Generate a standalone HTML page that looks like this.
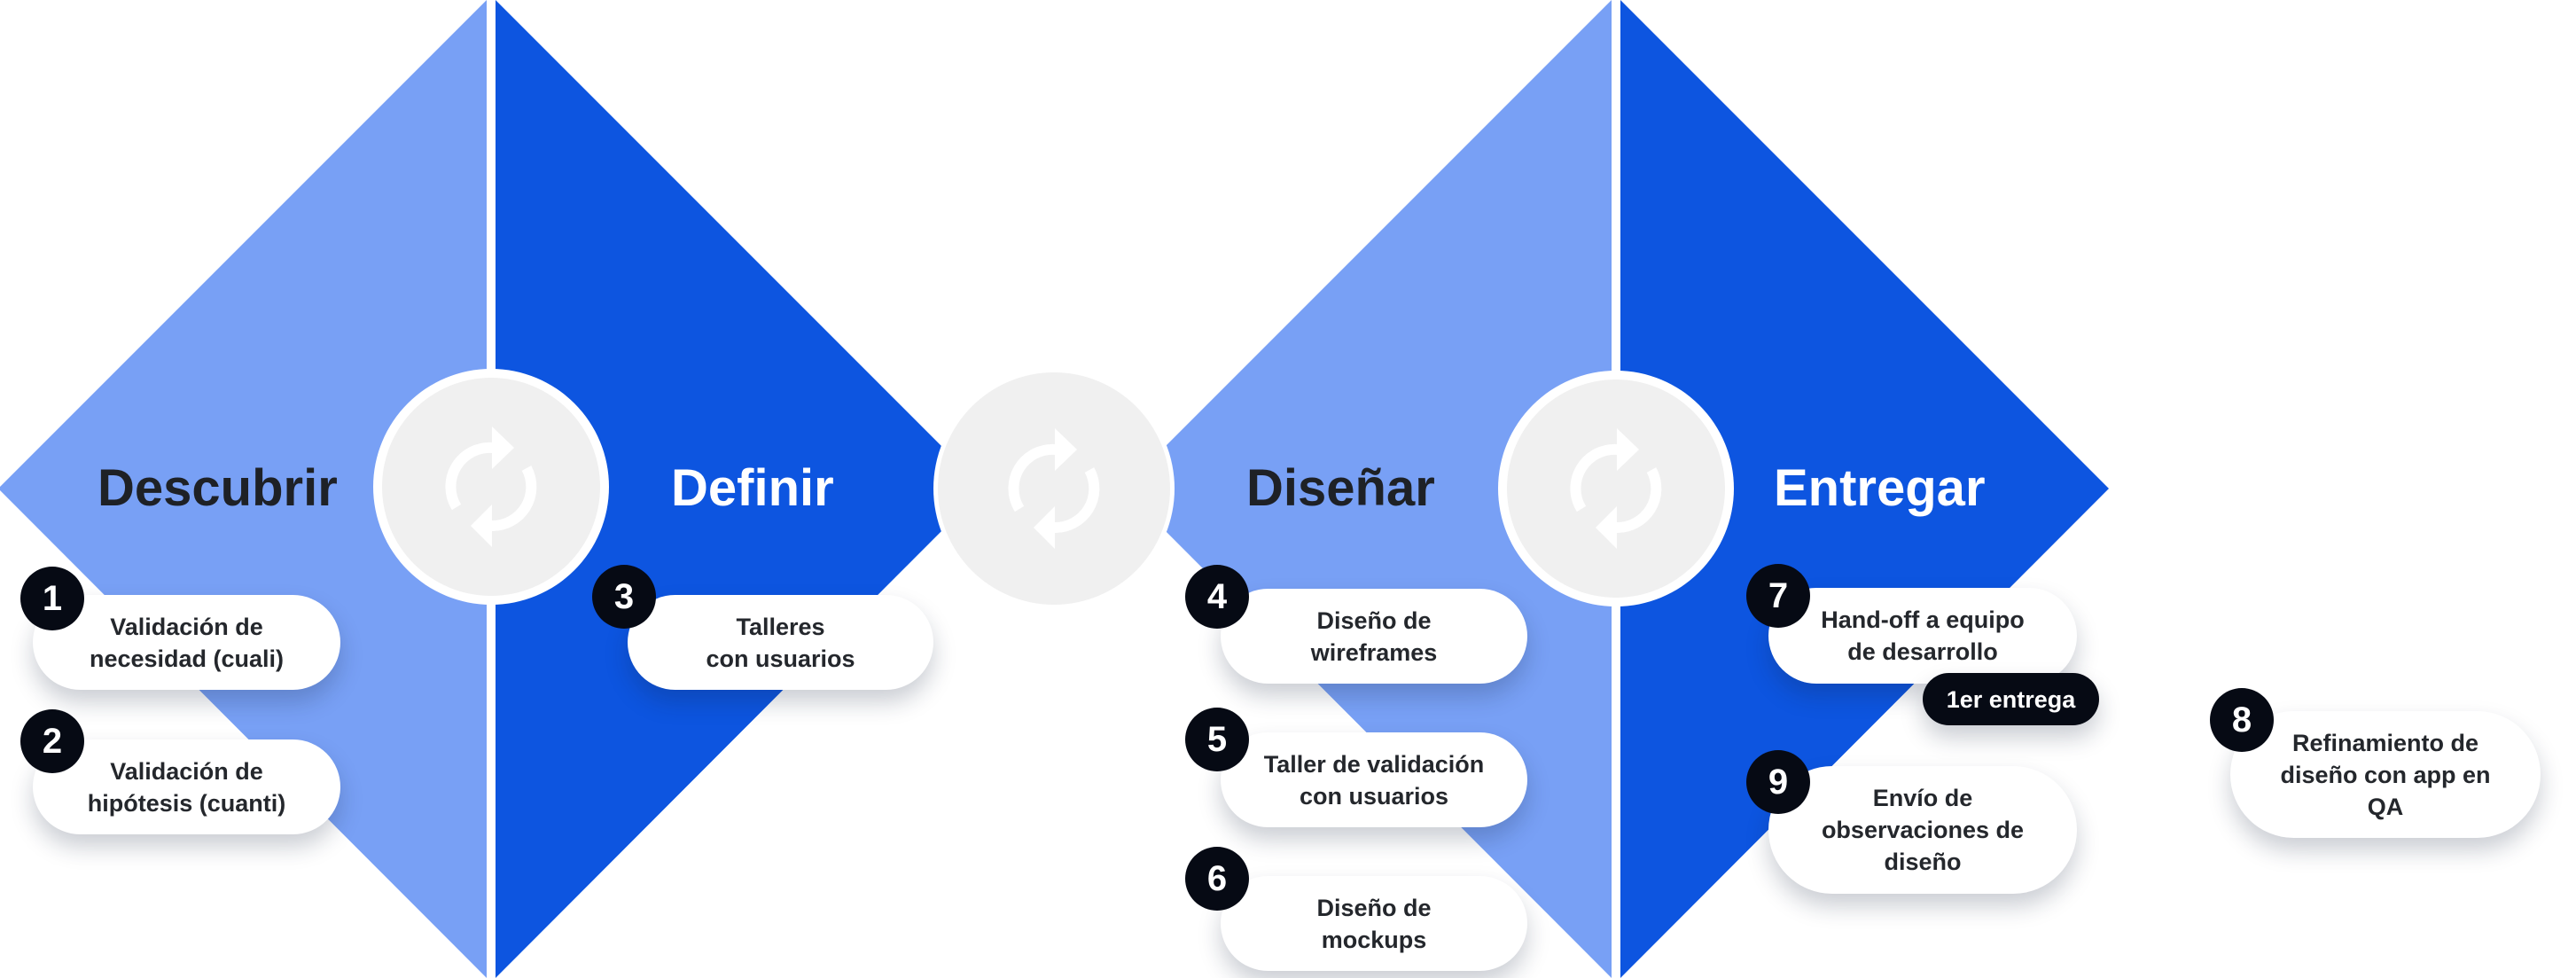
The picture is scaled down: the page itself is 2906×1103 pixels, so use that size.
<!DOCTYPE html>
<html><head><meta charset="utf-8"><style>
html,body{margin:0;padding:0;background:#fff;}
body{width:2906px;height:1103px;position:relative;overflow:hidden;font-family:"Liberation Sans",sans-serif;}
svg{position:absolute;left:0;top:0;}
.card{position:absolute;background:#fff;border-radius:60px;box-shadow:0 14px 26px rgba(20,30,60,0.22);display:flex;align-items:center;justify-content:center;text-align:center;font-weight:bold;font-size:27px;line-height:36px;color:#24272c;}
.b{position:absolute;width:72px;height:72px;border-radius:50%;background:#060a14;color:#fff;font-weight:bold;font-size:40px;line-height:72px;text-align:center;}
.t{position:absolute;font-weight:bold;font-size:58px;line-height:60px;}
</style></head><body>
<svg width="2906" height="1103" viewBox="0 0 2906 1103">
<polygon points="-2,551 549,0 549,1103" fill="#78a0f5"/>
<polygon points="559,0 1110,551 559,1103" fill="#0d55e0"/>
<polygon points="1267,551 1818,0 1818,1103" fill="#78a0f5"/>
<polygon points="1828,0 2379,551 1828,1103" fill="#0d55e0"/>
<circle cx="554" cy="549" r="133" fill="#fff"/><circle cx="554" cy="549" r="123" fill="#f0f0f0"/>
<circle cx="1189" cy="551" r="136" fill="#fff"/><circle cx="1189" cy="551" r="131" fill="#f0f0f0"/>
<circle cx="1823" cy="551" r="133" fill="#fff"/><circle cx="1823" cy="551" r="123" fill="#f0f0f0"/>
<g fill="none" stroke="#fff" stroke-width="12">
<path d="M556 505 A44 44 0 0 0 515 572"/>
<path d="M554 593 A44 44 0 0 0 594 528"/>
</g>
<polygon points="555,481 580,505 555,529" fill="#fff"/>
<polygon points="555,569 531,593 555,617" fill="#fff"/>
<g transform="translate(635,2)"><path d="M556 505 A44 44 0 0 0 515 572" fill="none" stroke="#fff" stroke-width="12"/><path d="M554 593 A44 44 0 0 0 594 528" fill="none" stroke="#fff" stroke-width="12"/><polygon points="555,481 580,505 555,529" fill="#fff"/><polygon points="555,569 531,593 555,617" fill="#fff"/></g>
<g transform="translate(1269,2)"><path d="M556 505 A44 44 0 0 0 515 572" fill="none" stroke="#fff" stroke-width="12"/><path d="M554 593 A44 44 0 0 0 594 528" fill="none" stroke="#fff" stroke-width="12"/><polygon points="555,481 580,505 555,529" fill="#fff"/><polygon points="555,569 531,593 555,617" fill="#fff"/></g>
</svg>
<div class="t" style="left:110px;top:521px;color:#1e2126;">Descubrir</div>
<div class="t" style="left:757px;top:521px;color:#fff;">Definir</div>
<div class="t" style="left:1406px;top:521px;color:#1e2126;">Diseñar</div>
<div class="t" style="left:2001px;top:521px;color:#fff;">Entregar</div>

<div class="card" style="left:37px;top:671px;width:347px;height:107px;">Validación de<br>necesidad (cuali)</div>
<div class="b" style="left:23px;top:639px;">1</div>
<div class="card" style="left:37px;top:834px;width:347px;height:107px;">Validación de<br>hipótesis (cuanti)</div>
<div class="b" style="left:23px;top:800px;">2</div>
<div class="card" style="left:708px;top:671px;width:345px;height:107px;">Talleres<br>con usuarios</div>
<div class="b" style="left:668px;top:637px;">3</div>
<div class="card" style="left:1377px;top:664px;width:346px;height:107px;">Diseño de<br>wireframes</div>
<div class="b" style="left:1337px;top:637px;">4</div>
<div class="card" style="left:1377px;top:826px;width:346px;height:107px;">Taller de validación<br>con usuarios</div>
<div class="b" style="left:1337px;top:798px;">5</div>
<div class="card" style="left:1377px;top:988px;width:346px;height:107px;">Diseño de<br>mockups</div>
<div class="b" style="left:1337px;top:955px;">6</div>
<div class="card" style="left:1995px;top:663px;width:348px;height:108px;">Hand-off a equipo<br>de desarrollo</div>
<div class="b" style="left:1970px;top:636px;">7</div>
<div class="card" style="left:2169px;top:759px;width:199px;height:59px;background:#060a14;color:#fff;border-radius:30px;">1er entrega</div>
<div class="card" style="left:1995px;top:864px;width:348px;height:144px;border-radius:72px;">Envío de<br>observaciones de<br>diseño</div>
<div class="b" style="left:1970px;top:846px;">9</div>
<div class="card" style="left:2516px;top:802px;width:350px;height:143px;border-radius:72px;">Refinamiento de<br>diseño con app en<br>QA</div>
<div class="b" style="left:2493px;top:776px;">8</div>
</body></html>
